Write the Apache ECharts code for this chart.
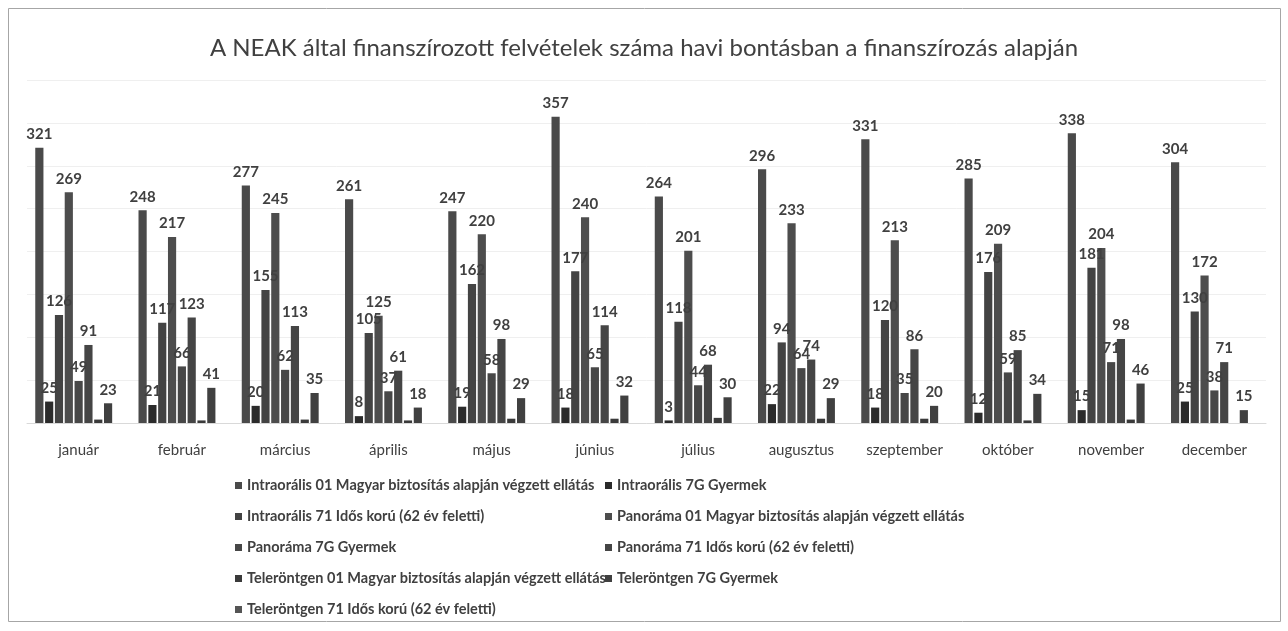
<!DOCTYPE html>
<html>
<head>
<meta charset="utf-8">
<script src="https://cdn.jsdelivr.net/npm/echarts@6/dist/echarts.min.js"></script>
<style>
  html, body { margin: 0; padding: 0; background: #ffffff; }
  #chart { width: 1288px; height: 631px; }
</style>
</head>
<body>
<div id="chart"></div>
<script>
// Months of the year
const months = ['január', 'február', 'március', 'április', 'május', 'június',
  'július', 'augusztus', 'szeptember', 'október', 'november', 'december'];

// Monthly counts per financing type
const intraMagyar = [321, 248, 277, 261, 247, 357, 264, 296, 331, 285, 338, 304];
const intraGyermek = [25, 21, 20, 8, 19, 18, 3, 22, 18, 12, 15, 25];
const intraIdos = [126, 117, 155, 105, 162, 177, 118, 94, 120, 176, 181, 130];
const panoMagyar = [269, 217, 245, 125, 220, 240, 201, 233, 213, 209, 204, 172];
const panoGyermek = [49, 66, 62, 37, 58, 65, 44, 64, 35, 59, 71, 38];
const panoIdos = [91, 123, 113, 61, 98, 114, 68, 74, 86, 85, 98, 71];
const teleMagyar = [4, 3, 4, 3, 5, 5, 6, 5, 5, 3, 4, null];
const teleGyermek = [23, 41, 35, 18, 29, 32, 30, 29, 20, 34, 46, 15];
const teleIdos = [null, null, null, null, null, null, null, null, null, null, null, null];

const seriesNames = [
  'Intraorális 01 Magyar biztosítás alapján végzett ellátás',
  'Intraorális 7G Gyermek',
  'Intraorális 71 Idős korú (62 év feletti)',
  'Panoráma 01 Magyar biztosítás alapján végzett ellátás',
  'Panoráma 7G Gyermek',
  'Panoráma 71 Idős korú (62 év feletti)',
  'Teleröntgen 01 Magyar biztosítás alapján végzett ellátás',
  'Teleröntgen 7G Gyermek',
  'Teleröntgen 71 Idős korú (62 év feletti)'
];
const seriesData = [intraMagyar, intraGyermek, intraIdos, panoMagyar, panoGyermek,
  panoIdos, teleMagyar, teleGyermek, teleIdos];
const seriesColors = ['#4a4a4a', '#2b2b2b', '#434343', '#4d4d4d', '#474747',
  '#454545', '#3a3a3a', '#404040', '#555555'];
const showLabel = [true, true, true, true, true, true, false, true, true];

const FONT = 'Lato, "Open Sans", sans-serif';
const TEXT = '#404040';

const chart = echarts.init(document.getElementById('chart'), null, { renderer: 'canvas' });

const series = seriesNames.map((name, i) => ({
  name: name,
  type: 'bar',
  data: seriesData[i],
  barGap: '20%',
  barCategoryGap: '16%',
  itemStyle: { color: seriesColors[i] },
  label: {
    show: showLabel[i],
    position: 'top',
    distance: 6,
    color: TEXT,
    fontFamily: FONT,
    fontWeight: 'bold',
    fontSize: 15
  }
}));

const legendText = { color: TEXT, fontFamily: FONT, fontSize: 14.5, fontWeight: 'bold' };

chart.setOption({
  animation: false,
  backgroundColor: '#ffffff',
  title: {
    text: 'A NEAK által finanszírozott felvételek száma havi bontásban a finanszírozás alapján',
    left: 'center',
    top: 31,
    textStyle: { color: TEXT, fontFamily: FONT, fontSize: 24, fontWeight: 'normal' }
  },
  grid: { left: 27, right: 22, top: 80, bottom: 208, containLabel: false },
  xAxis: {
    type: 'category',
    data: months,
    axisLine: { lineStyle: { color: '#d9d9d9' } },
    axisTick: { show: false },
    axisLabel: { color: TEXT, fontFamily: FONT, fontSize: 15, margin: 20, interval: 0 }
  },
  yAxis: {
    type: 'value',
    min: 0,
    max: 400,
    interval: 50,
    axisLabel: { show: false },
    axisLine: { show: false },
    axisTick: { show: false },
    splitLine: { lineStyle: { color: '#efefef' } }
  },
  legend: [
    {
      orient: 'vertical',
      left: 230,
      top: 473,
      itemWidth: 7,
      itemHeight: 7,
      itemGap: 16,
      icon: 'rect',
      textStyle: legendText,
      data: [seriesNames[0], seriesNames[2], seriesNames[4], seriesNames[6], seriesNames[8]]
    },
    {
      orient: 'vertical',
      left: 600,
      top: 473,
      itemWidth: 7,
      itemHeight: 7,
      itemGap: 16,
      icon: 'rect',
      textStyle: legendText,
      data: [seriesNames[1], seriesNames[3], seriesNames[5], seriesNames[7]]
    }
  ],
  graphic: [
    {
      type: 'rect',
      silent: true,
      shape: { x: 8.5, y: 8.5, width: 1272, height: 613 },
      style: { fill: 'none', stroke: '#a6a6a6', lineWidth: 1 }
    }
  ],
  series: series
});
</script>
</body>
</html>
